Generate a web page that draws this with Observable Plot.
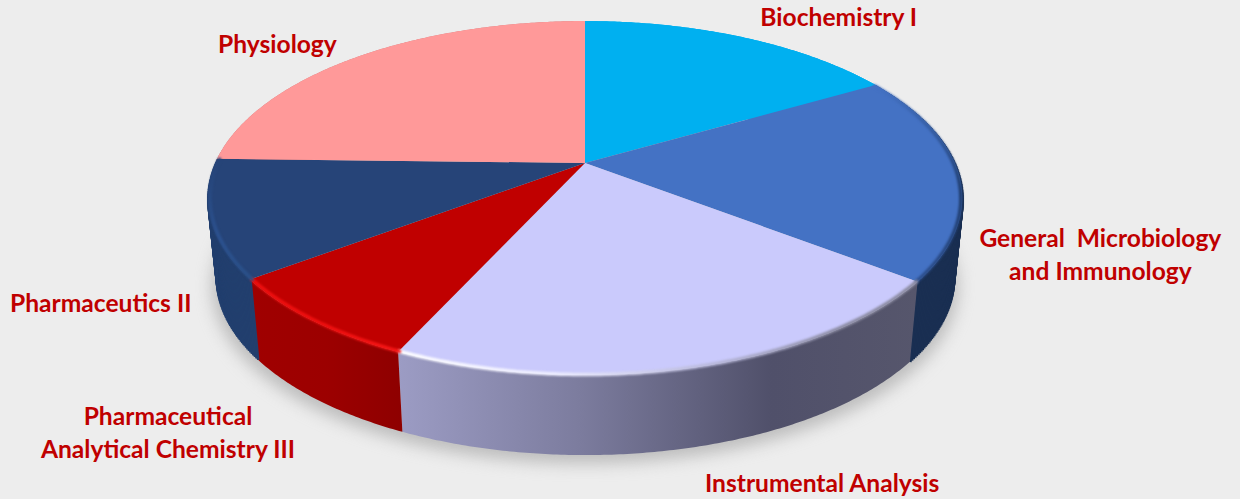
<!DOCTYPE html>
<html>
<head>
<meta charset="utf-8">
<script src="https://cdn.jsdelivr.net/npm/d3@7"></script>
<script src="https://cdn.jsdelivr.net/npm/@observablehq/plot@0.6"></script>
<style>
  html, body { margin: 0; padding: 0; background: #ededed; }
  svg { display: block; }
</style>
</head>
<body>
<div id="chart"></div>
<script>
// Data (percent share of each subject, clockwise from 12 o'clock)
const subjects = ["Biochemistry I", "General  Microbiology\nand Immunology", "Instrumental Analysis",
  "Pharmaceutical\nAnalytical Chemistry III", "Pharmaceutics II", "Physiology"];
const shares = [16.6, 18.9, 21.3, 7.9, 10.7, 24.6];

// Styles
const topColors = ["#00b0f0", "#4472c4", "#cacafc", "#c00000", "#264478", "#ff9999"];
const sideFills = ["#00b0f0", "#1a2f52", "url(#sideLav)", "url(#sideRed)", "#223f6e", "#d08080"];
const rimStrokes = [null, "url(#rimBlue)", "url(#rimLav)", "url(#rimRed)", "url(#rimNavy)", null];
const labelDx = [96, 141, 127, -144, -110, -82];
const labelDy = [-22, 78, 113, 110, 83, -14];

// Tilted-disc projection
const tilt = 0.198, flatten = 0.977, drop = 80 / 170.1;
const rim = (deg) => {
  const a = deg * Math.PI / 180, u = Math.sin(a), v = Math.cos(a), d = 1 + tilt * v;
  return {X: u / d, Y: v / d};
};
const lower = (p) => ({X: p.X * flatten, Y: p.Y - drop});

// Slices
let acc = 0;
const slices = subjects.map((name, i) => {
  const start = acc / 100 * 360;
  acc += shares[i] * (100 / d3.sum(shares));
  const end = acc / 100 * 360;
  const pts = [];
  const n = Math.ceil(end - start) * 2;
  for (let k = 0; k <= n; k++) pts.push(rim(start + (end - start) * k / n));
  return {name, i, start, end, mid: (start + end) / 2, pts};
});
const allRim = d3.range(0, 361, 1).map(rim);

const sx = 369.8, sy = 170.1, cx = 585, cy = 163;
const xDomain = [-cx / sx, (1240 - cx) / sx];
const yDomain = [cy / sy, (cy - 499) / sy];

const defs = () => {
  const ns = "http://www.w3.org/2000/svg";
  const d = document.createElementNS(ns, "defs");
  const grads = {
    sideLav: [[0, "#9c9cc4"], [0.35, "#7c7c9e"], [0.72, "#50506a"], [1, "#56566c"]],
    sideRed: [[0, "#a00000"], [0.5, "#9c0000"], [1, "#8e0000"]],
    rimLav: [[0, "#ffffff"], [0.3, "#eeeeff"], [0.6, "#b8b8da"], [0.85, "#8a8aa0"], [1, "#8a8aa0"]],
    rimRed: [[0, "#f01010"], [0.5, "#f01010"], [1, "#f81818"]]
  };
  const vgrads = {
    rimNavy: [[0, "#264478"], [0.3, "#284a82"], [0.65, "#2c5290"], [1, "#2a5088"]],
    rimBlue: [[0, "#4472c4"], [0.15, "#3a64ae"], [0.55, "#1e3a68"], [1, "#2c4e8c"]]
  };
  const build = (entries, vertical) => {
    for (const [id, stops] of Object.entries(entries)) {
      const g = document.createElementNS(ns, "linearGradient");
      g.setAttribute("id", id);
      if (vertical) { g.setAttribute("x2", "0"); g.setAttribute("y2", "1"); }
      for (const [o, c] of stops) {
        const s = document.createElementNS(ns, "stop");
        s.setAttribute("offset", o);
        s.setAttribute("stop-color", c);
        g.appendChild(s);
      }
      d.appendChild(g);
    }
  };
  build(grads, false);
  build(vgrads, true);
  return d;
};

const marks = [defs];

// Cast shadow under the disc
marks.push(Plot.area(allRim, {
  x1: 0, y1: -0.25,
  x2: (p) => p.X * flatten * 1.012, y2: (p) => p.Y - drop - 0.05,
  fill: "#a8a8a8", fillOpacity: 0.7, imageFilter: "blur(8px)"
}));

// Side walls
for (const s of slices) {
  marks.push(Plot.area(s.pts, {
    x1: (p) => p.X, y1: (p) => p.Y,
    x2: (p) => lower(p).X, y2: (p) => lower(p).Y,
    fill: sideFills[s.i]
  }));
  // Walls that wrap past the disc's widest point also need their straight silhouette filled
  if (!sideFills[s.i].startsWith("url")) {
    marks.push(Plot.link(s.pts, {
      x1: (p) => p.X, y1: (p) => p.Y,
      x2: (p) => lower(p).X, y2: (p) => lower(p).Y,
      stroke: sideFills[s.i], strokeWidth: 2.5, strokeLinecap: "butt"
    }));
  }
}

// Top faces
for (const s of slices) {
  marks.push(Plot.area(s.pts, {
    x1: 0, y1: 0,
    x2: (p) => p.X, y2: (p) => p.Y,
    fill: topColors[s.i]
  }));
}

// Bevel along the rim
for (const s of slices) {
  if (!rimStrokes[s.i]) continue;
  marks.push(Plot.line(s.pts, {
    x: (p) => p.X * 0.995, y: (p) => p.Y * 0.995,
    stroke: rimStrokes[s.i], strokeWidth: 3.5, imageFilter: "blur(1.2px)"
  }));
}

// Labels
for (const s of slices) {
  marks.push(Plot.text([rim(s.mid)], {
    x: "X", y: "Y", text: () => s.name,
    dx: labelDx[s.i], dy: labelDy[s.i],
    fill: "#c00000", fontFamily: "Lato", fontWeight: 700, fontSize: 24.6,
    lineHeight: 1.34, textAnchor: "middle"
  }));
}

const chart = Plot.plot({
  width: 1240, height: 499,
  marginTop: 0, marginRight: 0, marginBottom: 0, marginLeft: 0,
  style: {background: "#ededed", overflow: "visible"},
  x: {domain: xDomain, range: [0, 1240], axis: null},
  y: {domain: yDomain, range: [0, 499], axis: null},
  marks
});
document.getElementById("chart").appendChild(chart);
</script>
</body>
</html>
